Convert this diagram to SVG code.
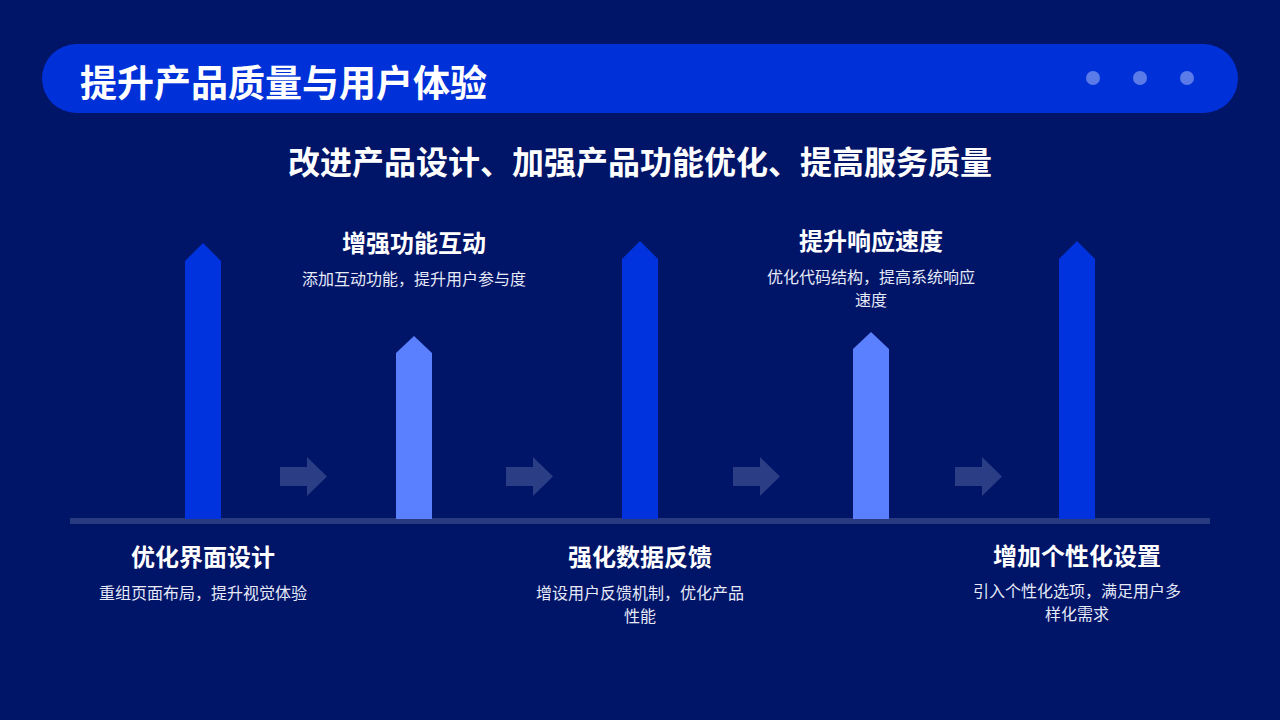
<svg xmlns="http://www.w3.org/2000/svg" width="1280" height="720" viewBox="0 0 1280 720">
<style>
text{font-family:"Noto Sans CJK SC","Noto Sans",sans-serif;fill:#ffffff}
.h{font-size:24px;font-weight:bold;text-anchor:middle}
.d{font-size:16px;text-anchor:middle;fill:#e6eaf8}
.dark{fill:#0033dd}
.light{fill:#5b80ff}
.arr{fill:#2a3d85}
</style>
<rect width="1280" height="720" fill="#001468"/>
<g id="header">
<rect x="42" y="44" width="1196" height="69" rx="34.5" fill="#0031d8"/>
<text x="80" y="97" style="font-size:37px;font-weight:bold">提升产品质量与用户体验</text>
<circle cx="1093" cy="78" r="7" fill="#5a7be8"/>
<circle cx="1140" cy="78" r="7" fill="#5a7be8"/>
<circle cx="1187" cy="78" r="7" fill="#5a7be8"/>
</g>
<text x="640" y="174" style="font-size:32px;font-weight:bold;text-anchor:middle">改进产品设计、加强产品功能优化、提高服务质量</text>
<g id="connectors">
<rect x="70" y="518" width="1140" height="6" fill="#2a3a80"/>
<path class="arr" d="M280 467h27v-10l20 19.5l-20 19.5v-10h-27z"/>
<path class="arr" d="M506 467h27v-10l20 19.5l-20 19.5v-10h-27z"/>
<path class="arr" d="M733 467h27v-10l20 19.5l-20 19.5v-10h-27z"/>
<path class="arr" d="M955 467h27v-10l20 19.5l-20 19.5v-10h-27z"/>
</g>
<g id="node1">
<path class="dark" d="M185 519V261l18-18l18 18V519z"/>
<text class="h" x="203" y="566">优化界面设计</text>
<text class="d" x="203" y="599">重组页面布局，提升视觉体验</text>
</g>
<g id="node2">
<path class="light" d="M396 519V353l18-17l18 17V519z"/>
<text class="h" x="414" y="252">增强功能互动</text>
<text class="d" x="414" y="285">添加互动功能，提升用户参与度</text>
</g>
<g id="node3">
<path class="dark" d="M622 519V259l18-18l18 18V519z"/>
<text class="h" x="640" y="566">强化数据反馈</text>
<text class="d" x="640" y="599">增设用户反馈机制，优化产品</text>
<text class="d" x="640" y="622">性能</text>
</g>
<g id="node4">
<path class="light" d="M853 519V349l18-17l18 17V519z"/>
<text class="h" x="871" y="250">提升响应速度</text>
<text class="d" x="871" y="283">优化代码结构，提高系统响应</text>
<text class="d" x="871" y="306">速度</text>
</g>
<g id="node5">
<path class="dark" d="M1059 519V259l18-18l18 18V519z"/>
<text class="h" x="1077" y="565">增加个性化设置</text>
<text class="d" x="1077" y="597">引入个性化选项，满足用户多</text>
<text class="d" x="1077" y="620">样化需求</text>
</g>
</svg>
